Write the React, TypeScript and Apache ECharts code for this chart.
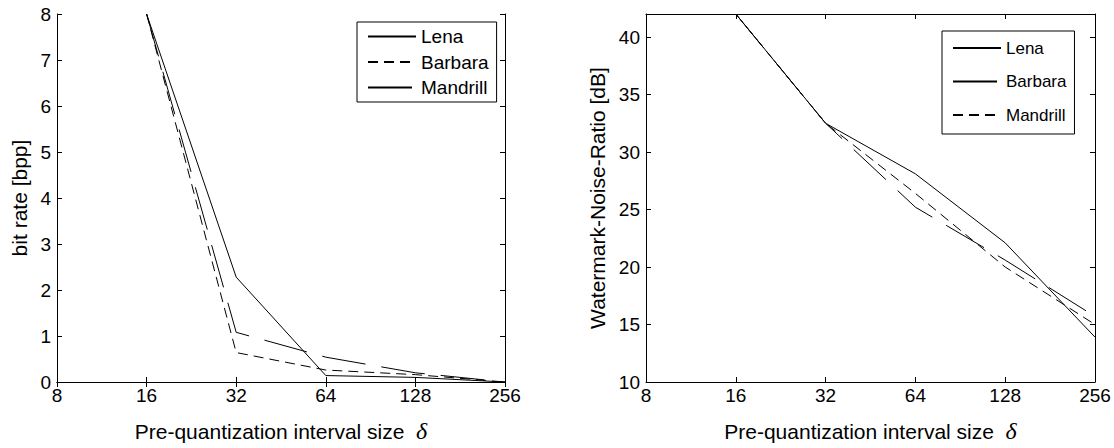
import React, { useEffect, useRef } from "react";
import * as echarts from "echarts";

const deltas = [16, 32, 64, 128, 256];
const seriesNames = ["Lena", "Barbara", "Mandrill"];

// left panel: bit rate [bpp]
const bppLena = [8, 2.28, 0.14, 0.1, 0];
const bppBarbara = [8, 0.64, 0.26, 0.16, 0];
const bppMandrill = [8, 1.08, 0.54, 0.2, 0];

// right panel: Watermark-Noise-Ratio [dB]
const wnrLena = [42, 32.5, 28.1, 22.1, 13.9];
const wnrBarbara = [42, 32.5, 25.2, 20.6, 15.7];
const wnrMandrill = [42, 32.5, 26.4, 20.0, 15.0];

const FONT = "'Liberation Sans', Arial, Helvetica, sans-serif";
const SOLID = "solid";
const DASHED = [10, 6];
const LONGDASH = [44, 16];

function toPts(vals: number[]) {
  return deltas.map((d, i) => [d, vals[i]]);
}

function makeOption(cfg: {
  gridLeft: number;
  gridTop: number;
  gridWidth: number;
  gridHeight: number;
  yMin: number;
  yMax: number;
  yInterval: number;
  yName: string;
  yNameGap: number;
  values: number[][];
  styles: any[];
  legendLeft: number;
  legendTop: number;
  legendGap: number;
  legendFont: number;
  legendLineHeight: number;
  legendPadding: number[];
}) {
  const axisLine = { show: true, lineStyle: { color: "#000", width: 1 } };
  const axisTick = { show: true, inside: true, length: 5, lineStyle: { color: "#000", width: 1 } };
  const xBase = {
    type: "log",
    logBase: 2,
    min: 8,
    max: 256,
    splitLine: { show: false },
    axisLine,
    axisTick,
  };
  const yBase = {
    type: "value",
    min: cfg.yMin,
    max: cfg.yMax,
    interval: cfg.yInterval,
    splitLine: { show: false },
    axisLine,
    axisTick,
  };
  return {
    animation: false,
    backgroundColor: "#fff",
    grid: {
      left: cfg.gridLeft,
      top: cfg.gridTop,
      width: cfg.gridWidth,
      height: cfg.gridHeight,
      containLabel: false,
    },
    xAxis: [
      {
        ...xBase,
        position: "bottom",
        axisLabel: {
          color: "#000",
          fontSize: 19,
          fontFamily: FONT,
          margin: 4,
          formatter: (v: number) => String(Math.round(v)),
        },
        name: "Pre-quantization interval size  {d|δ}",
        nameLocation: "middle",
        nameGap: 37,
        nameTextStyle: {
          color: "#000",
          fontSize: 21,
          fontFamily: FONT,
          rich: {
            d: {
              fontFamily: "'Liberation Serif', 'Times New Roman', serif",
              fontStyle: "italic",
              fontSize: 24,
              color: "#000",
            },
          },
        },
      },
      {
        ...xBase,
        position: "top",
        axisLabel: { show: false },
      },
    ],
    yAxis: [
      {
        ...yBase,
        position: "left",
        axisLabel: {
          color: "#000",
          fontSize: 19,
          fontFamily: FONT,
          margin: 6,
          showMaxLabel: cfg.yMax % cfg.yInterval === 0,
        },
        name: cfg.yName,
        nameLocation: "middle",
        nameGap: cfg.yNameGap,
        nameTextStyle: { color: "#000", fontSize: 21, fontFamily: FONT },
      },
      {
        ...yBase,
        position: "right",
        axisLabel: { show: false },
      },
    ],
    legend: {
      orient: "vertical",
      left: cfg.legendLeft,
      top: cfg.legendTop,
      itemWidth: 48,
      itemHeight: 12,
      itemGap: cfg.legendGap,
      padding: cfg.legendPadding,
      borderColor: "#000",
      borderWidth: 1,
      borderRadius: 0,
      backgroundColor: "#fff",
      itemStyle: { color: "rgba(0,0,0,0)", borderColor: "rgba(0,0,0,0)", borderWidth: 0, opacity: 0 },
      textStyle: {
        color: "#000",
        fontSize: cfg.legendFont,
        fontFamily: FONT,
        lineHeight: cfg.legendLineHeight,
      },
      data: seriesNames,
    },
    series: seriesNames.map((name, i) => ({
      name,
      type: "line",
      xAxisIndex: 0,
      yAxisIndex: 0,
      data: toPts(cfg.values[i]),
      symbol: "none",
      lineStyle: { color: "#000", width: 1, type: cfg.styles[i] },
      itemStyle: { color: "#000" },
    })),
  };
}

export default function App() {
  const leftRef = useRef<HTMLDivElement>(null);
  const rightRef = useRef<HTMLDivElement>(null);

  useEffect(() => {
    const left = echarts.init(leftRef.current!, undefined, { renderer: "svg" });
    const right = echarts.init(rightRef.current!, undefined, { renderer: "svg" });
    left.setOption(
      makeOption({
        gridLeft: 57,
        gridTop: 14,
        gridWidth: 448,
        gridHeight: 372,
        yMin: 0,
        yMax: 8,
        yInterval: 1,
        yName: "bit rate [bpp]",
        yNameGap: 25,
        values: [bppLena, bppBarbara, bppMandrill],
        styles: [SOLID, DASHED, LONGDASH],
        legendLeft: 357,
        legendTop: 22,
        legendGap: 6.5,
        legendFont: 19,
        legendLineHeight: 19,
        legendPadding: [5, 8, 5, 10],
      })
    );
    right.setOption(
      makeOption({
        gridLeft: 89,
        gridTop: 14,
        gridWidth: 449,
        gridHeight: 374,
        yMin: 10,
        yMax: 42,
        yInterval: 5,
        yName: "Watermark-Noise-Ratio [dB]",
        yNameGap: 35,
        values: [wnrLena, wnrBarbara, wnrMandrill],
        styles: [SOLID, LONGDASH, DASHED],
        legendLeft: 385,
        legendTop: 31,
        legendGap: 15.5,
        legendFont: 17,
        legendLineHeight: 18,
        legendPadding: [8, 8, 10, 10],
      })
    );
    return () => {
      left.dispose();
      right.dispose();
    };
  }, []);

  return (
    <div style={{ position: "absolute", left: 0, top: 0, width: 1114, height: 448, background: "#fff" }}>
      <div ref={leftRef} style={{ position: "absolute", left: 0, top: 0, width: 557, height: 448 }} />
      <div ref={rightRef} style={{ position: "absolute", left: 557, top: 0, width: 557, height: 448 }} />
    </div>
  );
}
